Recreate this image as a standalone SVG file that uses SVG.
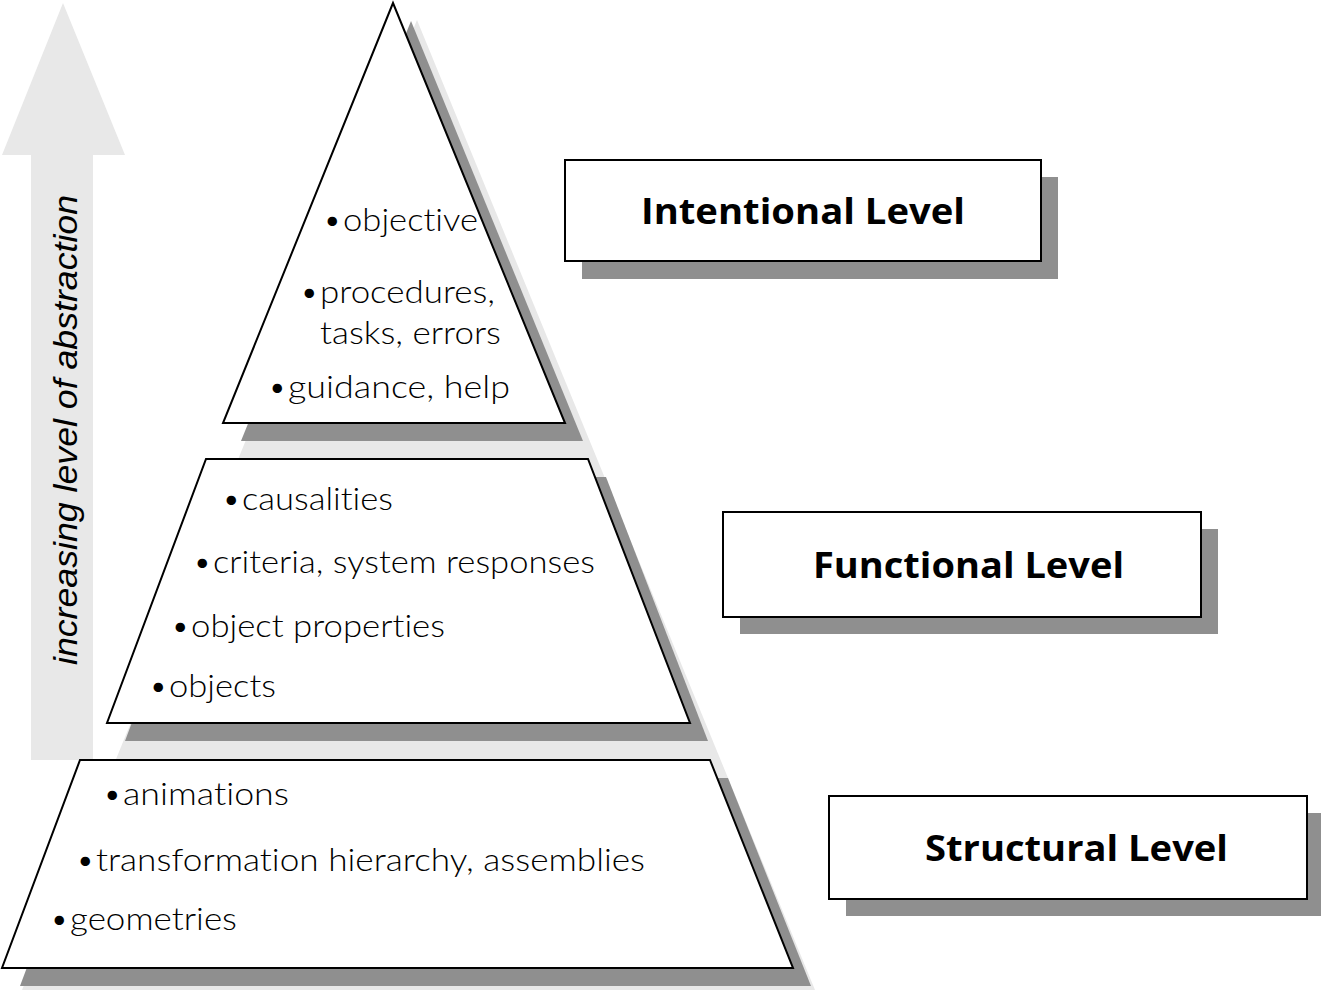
<svg xmlns="http://www.w3.org/2000/svg" width="1321" height="990" viewBox="0 0 1321 990">
<defs>
<style>
.lg{fill:#e8e8e8;stroke:none}
.sh{fill:#8f8f8f;stroke:none}
.shape{fill:#ffffff;stroke:#000000;stroke-width:2;stroke-linejoin:miter}
.bul{font-family:Lato,"Open Sans","Liberation Sans",sans-serif;font-size:32px;font-weight:300;font-variant-ligatures:none;fill:#000}
.lvl{font-family:"Open Sans","Noto Sans","Liberation Sans",sans-serif;font-size:36px;font-weight:bold;fill:#000}
.axis{font-family:"Liberation Sans",Arial,sans-serif;font-size:33px;font-style:italic;fill:#000}
</style>
</defs>
<rect x="0" y="0" width="1321" height="990" fill="#ffffff"/>
<g id="abstraction-arrow">
<polygon class="lg" points="63,3 125,155 93,155 93,760 31,760 31,155 2,155"/>
<text class="axis" transform="translate(77,430) rotate(-90)" text-anchor="middle" textLength="470" lengthAdjust="spacingAndGlyphs">increasing level of abstraction</text>
</g>
<g id="pyramid-backdrop">
<polygon class="lg" points="417,20 815,990 22,990"/>
</g>
<g id="structural-layer">
<polygon class="sh" points="98,778 728,778 811,986 20,986"/>
<polygon class="shape" points="80,760 710,760 793,968 2,968"/>
<text class="bul"><tspan x="103" y="805">•</tspan><tspan x="123" y="805" textLength="166" lengthAdjust="spacingAndGlyphs">animations</tspan></text>
<text class="bul"><tspan x="76" y="871">•</tspan><tspan x="96" y="871" textLength="549" lengthAdjust="spacingAndGlyphs">transformation hierarchy, assemblies</tspan></text>
<text class="bul"><tspan x="50" y="930">•</tspan><tspan x="70" y="930" textLength="167" lengthAdjust="spacingAndGlyphs">geometries</tspan></text>
</g>
<g id="functional-layer">
<polygon class="sh" points="224,477 606,477 708,741 125,741"/>
<polygon class="shape" points="206,459 588,459 690,723 107,723"/>
<text class="bul"><tspan x="222" y="510">•</tspan><tspan x="242" y="510" textLength="151" lengthAdjust="spacingAndGlyphs">causalities</tspan></text>
<text class="bul"><tspan x="193" y="573">•</tspan><tspan x="213" y="573" textLength="382" lengthAdjust="spacingAndGlyphs">criteria, system responses</tspan></text>
<text class="bul"><tspan x="171" y="637">•</tspan><tspan x="191" y="637" textLength="254" lengthAdjust="spacingAndGlyphs">object properties</tspan></text>
<text class="bul"><tspan x="149" y="697">•</tspan><tspan x="169" y="697" textLength="107" lengthAdjust="spacingAndGlyphs">objects</tspan></text>
</g>
<g id="intentional-layer">
<polygon class="sh" points="411,21 583,441 241,441"/>
<polygon class="shape" points="393,3 565,423 223,423"/>
<text class="bul"><tspan x="323" y="231">•</tspan><tspan x="343" y="231" textLength="135" lengthAdjust="spacingAndGlyphs">objective</tspan></text>
<text class="bul"><tspan x="300" y="303">•</tspan><tspan x="320" y="303" textLength="175" lengthAdjust="spacingAndGlyphs">procedures,</tspan></text>
<text class="bul"><tspan x="320" y="344" textLength="181" lengthAdjust="spacingAndGlyphs">tasks, errors</tspan></text>
<text class="bul"><tspan x="268" y="398">•</tspan><tspan x="288" y="398" textLength="222" lengthAdjust="spacingAndGlyphs">guidance, help</tspan></text>
</g>
<g id="intentional-label">
<rect class="sh" x="582" y="177" width="476" height="102"/>
<rect class="shape" x="565" y="160" width="476" height="101"/>
<text class="lvl" x="641" y="224" textLength="324" lengthAdjust="spacingAndGlyphs">Intentional Level</text>
</g>
<g id="functional-label">
<rect class="sh" x="740" y="529" width="478" height="105"/>
<rect class="shape" x="723" y="512" width="478" height="105"/>
<text class="lvl" x="813" y="578" textLength="311" lengthAdjust="spacingAndGlyphs">Functional Level</text>
</g>
<g id="structural-label">
<rect class="sh" x="846" y="813" width="478" height="103"/>
<rect class="shape" x="829" y="796" width="478" height="103"/>
<text class="lvl" x="925" y="861" textLength="303" lengthAdjust="spacingAndGlyphs">Structural Level</text>
</g>
<g id="connectors"></g>
</svg>
